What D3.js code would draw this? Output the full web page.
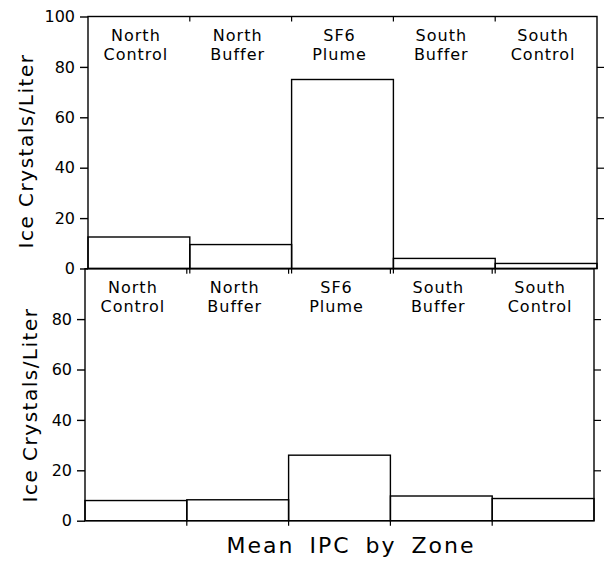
<!DOCTYPE html>
<html>
<head>
<meta charset="utf-8">
<script src="https://cdn.jsdelivr.net/npm/d3@7"></script>
<style>
  html, body { margin: 0; padding: 0; background: #fff; }
  svg { display: block; }
  text { font-family: "DejaVu Sans", sans-serif; fill: #000; }
</style>
</head>
<body>
<svg id="chart" width="606" height="561"></svg>
<script>
// ---- data ----
const categories = ["North Control", "North Buffer", "SF6 Plume", "South Buffer", "South Control"];
const topValues = [12.5, 9.5, 75, 4, 2];
const bottomValues = [8, 8.3, 26, 9.8, 8.8];
const topTicks = [0, 20, 40, 60, 80, 100];
const bottomTicks = [0, 20, 40, 60, 80];
const yTitle = "Ice Crystals/Liter";
const xTitle = "Mean IPC by Zone";

const svg = d3.select("#chart");

function panel(cfg) {
  const x = d3.scaleBand().domain(categories).range([cfg.x0, cfg.x1]).padding(0);
  const y = d3.scaleLinear().domain([0, 100]).range([cfg.y0, cfg.y1]);
  const g = svg.append("g");

  // bars
  g.selectAll("rect.bar").data(cfg.values).join("rect")
    .attr("class", "bar")
    .attr("x", (d, i) => x(categories[i]))
    .attr("y", d => y(d))
    .attr("width", x.bandwidth())
    .attr("height", d => y(0) - y(d))
    .attr("fill", "none").attr("stroke", "#000").attr("stroke-width", 1.4);

  // frame
  g.append("rect")
    .attr("x", cfg.x0).attr("y", y(100))
    .attr("width", cfg.x1 - cfg.x0).attr("height", y(0) - y(100))
    .attr("fill", "none").attr("stroke", "#000").attr("stroke-width", 1.4);

  // left axis
  const left = d3.axisLeft(y).tickValues(cfg.ticks).tickSize(8).tickPadding(5).tickFormat(d3.format("d"));
  const la = g.append("g").attr("transform", `translate(${cfg.x0},0)`).call(left);
  la.select(".domain").remove();
  la.selectAll("line").attr("stroke-width", 1.4);
  la.selectAll("text").style("font-size", "16px").style("font-family", "DejaVu Sans");

  // right axis (ticks outside, no labels)
  const right = d3.axisRight(y).tickValues([20, 40, 60, 80]).tickSize(7).tickFormat("");
  const ra = g.append("g").attr("transform", `translate(${cfg.x1},0)`).call(right);
  ra.select(".domain").remove();
  ra.selectAll("line").attr("stroke-width", 1.2);

  // category boundary ticks
  const bounds = categories.slice(1).map(c => x(c));
  g.selectAll("line.tt").data(bounds).join("line")
    .attr("x1", d => d).attr("x2", d => d)
    .attr("y1", y(100)).attr("y2", y(100) + 5)
    .attr("stroke", "#000").attr("stroke-width", 1.2);
  g.selectAll("line.bt").data(bounds).join("line")
    .attr("x1", d => d).attr("x2", d => d)
    .attr("y1", y(0)).attr("y2", y(0) + 5)
    .attr("stroke", "#000").attr("stroke-width", 1.2);

  // category labels (two separate lines)
  [0, 1].forEach(k => {
    g.selectAll("text.cat" + k).data(categories).join("text")
      .attr("class", "cat" + k)
      .attr("text-anchor", "middle")
      .attr("x", d => x(d) + x.bandwidth() / 2 - 3)
      .attr("y", k === 0 ? cfg.labelY1 : cfg.labelY2)
      .style("font-size", "16px").style("letter-spacing", "1px")
      .text(d => d.split(" ")[k]);
  });

  // y title
  g.append("text")
    .attr("transform", `translate(${cfg.titleX},${cfg.titleY}) rotate(-90)`)
    .attr("text-anchor", "middle")
    .style("font-size", "20px").style("letter-spacing", "1.5px")
    .text(yTitle);
}

panel({ x0: 88, x1: 597, y0: 268.5, y1: 16.5, values: topValues, ticks: topTicks,
        labelY1: 41, labelY2: 60, titleX: 33, titleY: 151 });
panel({ x0: 85, x1: 594, y0: 520.7, y1: 268.7, values: bottomValues, ticks: bottomTicks,
        labelY1: 293, labelY2: 312, titleX: 37, titleY: 405 });

svg.append("text")
  .attr("x", 351).attr("y", 553)
  .attr("text-anchor", "middle")
  .style("font-size", "22px").style("letter-spacing", "2px").style("word-spacing", "6px")
  .text(xTitle);
</script>
</body>
</html>
